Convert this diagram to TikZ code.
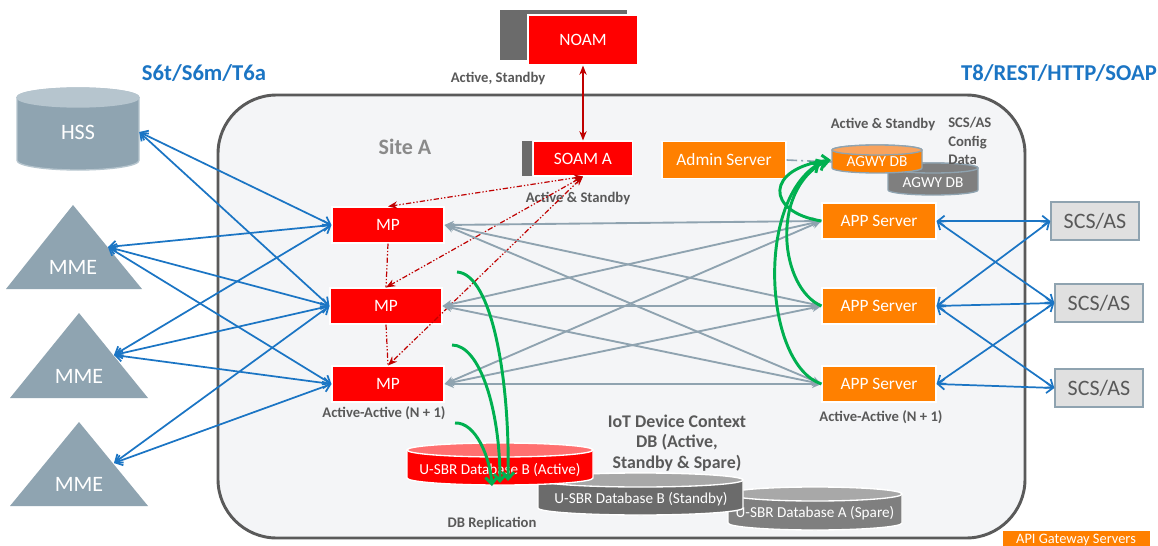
\documentclass[tikz,border=0pt]{standalone}
\usepackage{fontspec}
\setmainfont{Carlito}
\usetikzlibrary{arrows.meta}
\definecolor{redA}{HTML}{FF0000}
\definecolor{redTop}{HTML}{FF7070}
\definecolor{darkred}{HTML}{C00000}
\definecolor{orangeA}{HTML}{FF8000}
\definecolor{orangeTop}{HTML}{F8A35E}
\definecolor{blueA}{HTML}{1B75C4}
\definecolor{grayblue}{HTML}{8FA3B0}
\definecolor{hssbody}{HTML}{8FA4B1}
\definecolor{hsstop}{HTML}{B6C5CE}
\definecolor{labgray}{HTML}{595959}
\definecolor{sitegray}{HTML}{8A8A8A}
\definecolor{sitefill}{HTML}{F4F5F7}
\definecolor{siteborder}{HTML}{5A5A5A}
\definecolor{scsfill}{HTML}{E0E0E0}
\definecolor{darkgrayA}{HTML}{6B6B6B}
\definecolor{midgray}{HTML}{7F7F7F}
\definecolor{lightgrayA}{HTML}{A8A8A8}
\definecolor{greenA}{HTML}{00B050}
\newcommand{\dbcyl}[8]{%
  \pgfmathsetmacro\cylcx{(#1+#2)/2}%
  \pgfmathsetmacro\cylrx{(#2-#1)/2}%
  \filldraw[fill=#6,draw=#8,line width=1pt] (#1,#3+#5) -- (#1,#4-#5)
    arc[start angle=180,end angle=0,x radius=\cylrx,y radius=#5] -- (#2,#3+#5)
    arc[start angle=0,end angle=-180,x radius=\cylrx,y radius=#5] -- cycle;
  \filldraw[fill=#7,draw=#8,line width=1pt] (\cylcx,#3+#5) ellipse[x radius=\cylrx,y radius=#5];
}
\begin{document}
\begin{tikzpicture}[x=0.75pt,y=-0.75pt,
  boxfont/.style={font=\fontsize{13}{15}\selectfont},
  redbox/.style={fill=redA,draw=white,line width=0.8pt,text=white,boxfont,inner sep=0pt,minimum width=84pt,minimum height=27pt},
  orbox/.style={fill=orangeA,draw=white,line width=0.8pt,text=white,boxfont,inner sep=0pt,minimum width=85.5pt,minimum height=27pt},
  scsbox/.style={fill=scsfill,draw=grayblue,line width=1.1pt,text=labgray,font=\fontsize{16.5}{18}\selectfont,inner sep=0pt,minimum width=66pt,minimum height=28.5pt},
  lbl/.style={text=labgray,font=\bfseries\fontsize{11}{13}\selectfont,inner sep=0pt},
  title/.style={text=blueA,font=\bfseries\fontsize{17}{19}\selectfont,inner sep=0pt},
  dbtext/.style={text=white,font=\fontsize{11.4}{13}\selectfont,inner sep=0pt},
  bigwhite/.style={text=white,font=\fontsize{16.5}{18}\selectfont,inner sep=0pt},
  bluearr/.style={draw=blueA,line width=1.3pt,arrows={Straight Barb[length=5pt,width=8pt]-Straight Barb[length=5pt,width=8pt]}},
  grayarr/.style={draw=grayblue,line width=1.4pt,arrows={Stealth[length=7pt,width=6pt,inset=2pt]-Stealth[length=7pt,width=6pt,inset=2pt]}},
  redarr/.style={draw=darkred,line width=0.9pt,arrows={Stealth[length=7pt,width=5.5pt]-Stealth[length=7pt,width=5.5pt]}},
  reddash/.style={draw=darkred,line width=0.9pt,dash pattern=on 4pt off 1.5pt on 1pt off 1.5pt on 1pt off 1.5pt},
  greenarr/.style={draw=greenA,line width=2.2pt,arrows={-Straight Barb[length=5pt,width=9pt]}}
]
\useasboundingbox (0,0) rectangle (1158,546);
\fill[white] (0,0) rectangle (1158,546);

% Site A box
\filldraw[fill=sitefill,draw=siteborder,line width=2.2pt,rounded corners=44pt] (218,95) rectangle (1025,538);
\node[text=sitegray,font=\bfseries\fontsize{16.5}{18}\selectfont,inner sep=0pt] (sitea) at (405,147) {Site A};

% Titles
\node[title] (ttl1) at (204,73) {S6t/S6m/T6a};
\node[title] (ttl2) at (1059,73) {T8/REST/HTTP/SOAP};

% NOAM
\fill[fill=darkgrayA] (500,10) rectangle (627,60);
\node[redbox,minimum width=82.5pt,minimum height=37.5pt] (noam) at (583,40) {NOAM};
\node[lbl] (noamlbl) at (498,78) {Active, Standby};

% SOAM
\fill[fill=darkgrayA] (522,141) rectangle (532,176);
\node[redbox,minimum width=74.25pt,minimum height=26.25pt] (soam) at (583,158.5) {SOAM A};
\node[lbl] (soamlbl) at (578,198) {Active \& Standby};

% MPs
\node[redbox] (mp1) at (388,225) {MP};
\node[redbox] (mp2) at (386,306) {MP};
\node[redbox] (mp3) at (388,384) {MP};
\node[lbl] (mplbl) at (384,413) {Active-Active (N + 1)};

% Admin and APP servers
\node[orbox,minimum width=93pt,minimum height=27.75pt] (admin) at (724,160) {Admin Server};
\node[orbox] (app1) at (879,221) {APP Server};
\node[orbox] (app2) at (879,306) {APP Server};
\node[orbox] (app3) at (879,384) {APP Server};
\node[lbl] (applbl) at (881,417) {Active-Active (N + 1)};

% AGWY DBs
\dbcyl{888}{978}{163}{195}{5}{midgray}{midgray}{grayblue}
\node[dbtext,font=\fontsize{11.5}{13}\selectfont] (agwyB) at (933,183) {AGWY DB};
\dbcyl{832}{922}{145}{173}{5}{orangeA}{orangeTop}{grayblue}
\node[dbtext,font=\fontsize{11.5}{13}\selectfont,minimum width=67.5pt,minimum height=14pt] (agwyA) at (877,162) {AGWY DB};
\node[lbl] (agwylbl) at (883,124) {Active \& Standby};
\node[lbl,align=left,anchor=west,font=\bfseries\fontsize{11}{13.8}\selectfont] (cfglbl) at (948,141) {SCS/AS\\Config\\Data};

\draw[draw=grayblue,line width=1.2pt,dash pattern=on 8pt off 3pt on 1.5pt off 3pt] (admin.east) -- (agwyA.west);

% SCS/AS
\node[scsbox] (scs1) at (1095,221) {SCS/AS};
\node[scsbox] (scs2) at (1099,303) {SCS/AS};
\node[scsbox] (scs3) at (1099,388) {SCS/AS};

% HSS
\dbcyl{17}{139}{88}{170}{9.5}{hssbody}{hsstop}{hsstop}
\node[bigwhite,minimum width=91.5pt,minimum height=57pt] (hss) at (78,132) {HSS};

% MMEs
\fill[hssbody] (73,205) -- (142,289) -- (6,289) -- cycle;
\fill[hssbody] (79,313) -- (148,398) -- (10,398) -- cycle;
\fill[hssbody] (79,422) -- (148,506) -- (10,506) -- cycle;
\node[bigwhite] (mme1) at (73,267) {MME};
\node[bigwhite] (mme2) at (79,376) {MME};
\node[bigwhite] (mme3) at (79,484) {MME};
\coordinate (mme1p) at (108,247);
\coordinate (mme2p) at (114,355);
\coordinate (mme3p) at (114,463);

% U-SBR databases
\dbcyl{728}{902}{487}{530}{7}{midgray}{lightgrayA}{white}
\node[dbtext] (usbrC) at (815,513) {U-SBR Database A (Spare)};
\dbcyl{538}{743}{473}{515}{7}{darkgrayA}{lightgrayA}{white}
\node[dbtext] (usbrB) at (641,499) {U-SBR Database B (Standby)};
\dbcyl{407}{593}{443}{485}{7}{redA}{redTop}{white}
\node[dbtext] (usbrA) at (500,470) {U-SBR Database B (Active)};

\node[lbl,align=center,font=\bfseries\fontsize{13.4}{15.3}\selectfont] (iotlbl) at (677,443) {IoT Device Context\\DB (Active,\\Standby \& Spare)};
\node[lbl] (repllbl) at (492,523) {DB Replication};

% API legend
\node[fill=orangeA,text=white,font=\fontsize{10.8}{12}\selectfont,inner sep=0pt,minimum width=110.25pt,minimum height=13pt] (api) at (1076,540) {API Gateway Servers};

% NOAM-SOAM
\draw[redarr] (noam.south) -- (soam.north);

% SOAM - MP dash-dot
\draw[reddash,arrows={Stealth[length=7pt,width=5.5pt]-Stealth[length=7pt,width=5.5pt]}] (soam.south) -- (mp1.north);
\draw[reddash,arrows={Stealth[length=7pt,width=5.5pt]-Stealth[length=7pt,width=5.5pt]}] (soam.south) -- (mp2.north);
\draw[reddash,arrows={Stealth[length=7pt,width=5.5pt]-Stealth[length=7pt,width=5.5pt]}] (soam.south) -- (mp3.north);
\draw[reddash] (mp1.south) -- (mp2.north);
\draw[reddash] (mp2.south) -- (mp3.north);

% HSS / MME to MPs
\draw[bluearr] (hss.east) -- (mp1.west);
\draw[bluearr] (hss.east) -- (mp2.west);
\draw[bluearr] (mme1p) -- (mp1.west);
\draw[bluearr] (mme1p) -- (mp2.west);
\draw[bluearr] (mme1p) -- (mp3.west);
\draw[bluearr] (mme2p) -- (mp1.west);
\draw[bluearr] (mme2p) -- (mp2.west);
\draw[bluearr] (mme2p) -- (mp3.west);
\draw[bluearr] (mme3p) -- (mp2.west);
\draw[bluearr] (mme3p) -- (mp3.west);

% MPs to APP servers
\foreach \m in {mp1,mp2,mp3}{
  \foreach \a in {app1,app2,app3}{
    \draw[grayarr] (\m.east) -- (\a.west);
  }
}

% APP servers to SCS/AS
\draw[bluearr] (app1.east) -- (scs1.west);
\draw[bluearr] (app1.east) -- (scs2.west);
\draw[bluearr] (app2.east) -- (scs1.west);
\draw[bluearr] (app2.east) -- (scs2.west);
\draw[bluearr] (app2.east) -- (scs3.west);
\draw[bluearr] (app3.east) -- (scs2.west);
\draw[bluearr] (app3.east) -- (scs3.west);

% Green replication curves (AGWY)
\coordinate (ag1) at (831,160);
\coordinate (ag2) at (826,161);
\coordinate (ag3) at (820,163);
\draw[greenarr] (app1.west) .. controls (765,212) and (765,168) .. (ag1);
\draw[greenarr] (app2.west) .. controls (780,288) and (770,192) .. (ag2);
\draw[greenarr] (app3.west) .. controls (765,365) and (755,205) .. (ag3);

% Green replication curves (U-SBR)
\coordinate (g1s) at (457,272);
\coordinate (g2s) at (452,345);
\coordinate (g3s) at (455,423);
\coordinate (u1) at (508,481);
\coordinate (u2) at (500,483);
\coordinate (u3) at (492,486);
\draw[greenarr] (g1s) .. controls (492,274) and (510,380) .. (u1);
\draw[greenarr] (g2s) .. controls (480,345) and (500,410) .. (u2);
\draw[greenarr] (g3s) .. controls (476,422) and (490,458) .. (u3);
\end{tikzpicture}
\end{document}
